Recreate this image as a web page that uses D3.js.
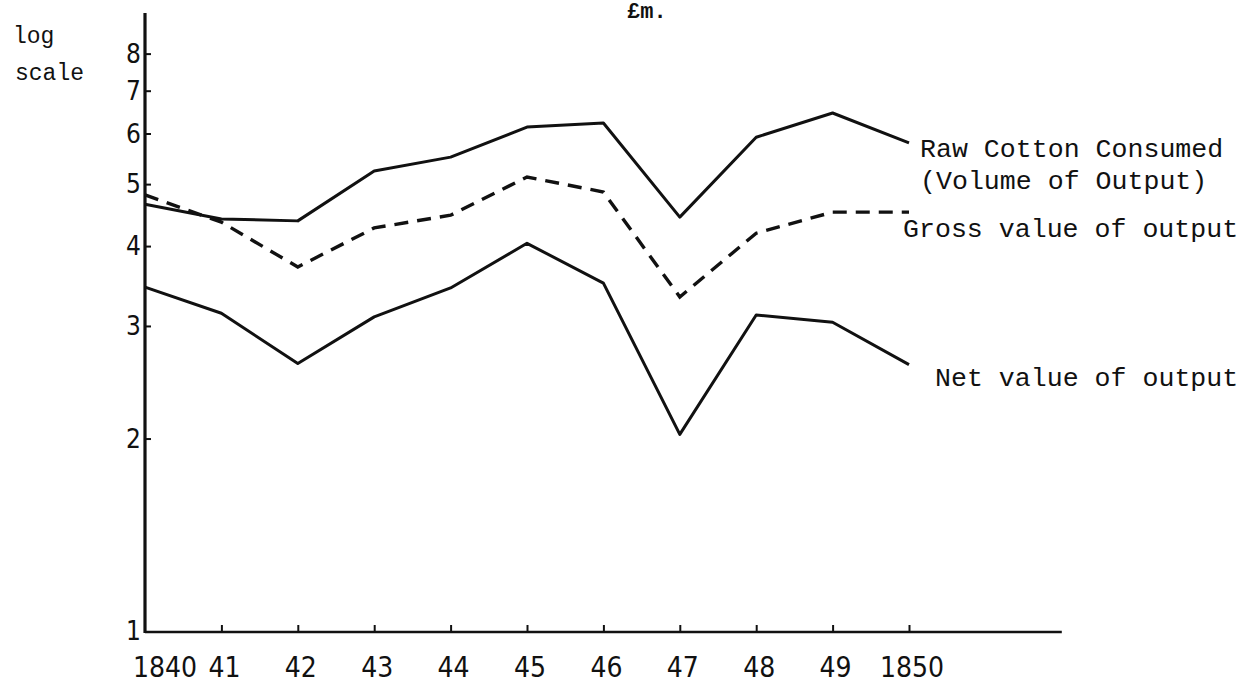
<!DOCTYPE html>
<html>
<head>
<meta charset="utf-8">
<script src="https://cdn.jsdelivr.net/npm/d3@7/dist/d3.min.js"></script>
<style>
  html, body { margin: 0; padding: 0; background: #fff; }
  svg { display: block; }
  .mono { font-family: "Liberation Mono", "DejaVu Sans Mono", monospace; fill: #111; }
  .tick-label { font-family: "Liberation Sans Narrow", "DejaVu Sans Condensed", sans-serif; font-stretch: condensed; fill: #111; }
</style>
</head>
<body>
<svg id="chart" width="1246" height="686"></svg>
<script>
// Cotton industry, 1840-1850 (£m., log scale)
const years = [1840, 1841, 1842, 1843, 1844, 1845, 1846, 1847, 1848, 1849, 1850];
const rawCotton  = [4.65, 4.41, 4.38, 5.24, 5.51, 6.14, 6.23, 4.44, 5.92, 6.46, 5.80];
const grossValue = [4.81, 4.36, 3.71, 4.27, 4.47, 5.13, 4.86, 3.33, 4.19, 4.52, 4.52];
const netValue   = [3.45, 3.14, 2.62, 3.10, 3.44, 4.04, 3.50, 2.03, 3.12, 3.04, 2.61];

const xTickLabels = ["1840", "41", "42", "43", "44", "45", "46", "47", "48", "49", "1850"];
const yTicks = [1, 2, 3, 4, 5, 6, 7, 8];
const axisEndYear = 1852;
const yMax = 9.26;

const svg = d3.select("#chart");

const x = d3.scaleLinear().domain([1840, 1850]).range([145, 909]);
const y = d3.scaleLog().domain([1, yMax]).range([631, 13]);

const ink = "#111";

// y axis: heavy vertical rule with short inward ticks
const yAxis = d3.axisRight(y)
  .tickValues(yTicks.filter(v => v > 1))
  .tickSize(6)
  .tickFormat("");
const gy = svg.append("g").attr("transform", `translate(${x(1840)},0)`).call(yAxis);
gy.select(".domain").remove();
gy.selectAll(".tick line").attr("stroke", ink).attr("stroke-width", 2);

svg.append("line")
  .attr("x1", x(1840)).attr("x2", x(1840))
  .attr("y1", y(1) + 2).attr("y2", y(yMax))
  .attr("stroke", ink).attr("stroke-width", 3.2);

svg.append("g").selectAll("text")
  .data(yTicks)
  .join("text")
  .attr("class", "tick-label")
  .attr("x", x(1840) - 4)
  .attr("y", d => y(d))
  .attr("dy", "0.36em")
  .attr("text-anchor", "end")
  .attr("font-size", 26)
  .text(d => d);

// x axis: baseline extended past 1850 with small upward ticks
svg.append("line")
  .attr("x1", x(1840)).attr("x2", x(axisEndYear))
  .attr("y1", y(1) + 1).attr("y2", y(1) + 1)
  .attr("stroke", ink).attr("stroke-width", 2.6);

const xAxis = d3.axisTop(x)
  .tickValues(years.slice(1))
  .tickSize(7)
  .tickFormat("");
const gx = svg.append("g").attr("transform", `translate(0,${y(1) + 1})`).call(xAxis);
gx.select(".domain").remove();
gx.selectAll(".tick line").attr("stroke", ink).attr("stroke-width", 2);

svg.append("g").selectAll("text")
  .data(years)
  .join("text")
  .attr("class", "tick-label")
  .attr("x", (d, i) => i === 0 ? x(d) - 12 : x(d) + 3)
  .attr("y", y(1) + 46)
  .attr("text-anchor", (d, i) => i === 0 ? "start" : "middle")
  .attr("font-size", 28)
  .text((d, i) => xTickLabels[i]);

// series
const line = d3.line()
  .x(d => x(d[0]))
  .y(d => y(d[1]));

function series(values) {
  return years.map((yr, i) => [yr, values[i]]);
}

svg.append("path")
  .datum(series(rawCotton))
  .attr("d", line)
  .attr("fill", "none")
  .attr("stroke", ink)
  .attr("stroke-width", 3)
  .attr("stroke-linejoin", "round");

svg.append("path")
  .datum(series(grossValue))
  .attr("d", line)
  .attr("fill", "none")
  .attr("stroke", ink)
  .attr("stroke-width", 3.4)
  .attr("stroke-dasharray", "14 9");

svg.append("path")
  .datum(series(netValue))
  .attr("d", line)
  .attr("fill", "none")
  .attr("stroke", ink)
  .attr("stroke-width", 3)
  .attr("stroke-linejoin", "round");

// series labels
const labelSize = 26.6;
const last = years.length - 1;
svg.append("text").attr("class", "mono").attr("font-size", labelSize)
  .attr("x", x(1850) + 11).attr("y", y(rawCotton[last]) + 14)
  .text("Raw Cotton Consumed");
svg.append("text").attr("class", "mono").attr("font-size", labelSize)
  .attr("x", x(1850) + 11).attr("y", y(rawCotton[last]) + 46)
  .text("(Volume of Output)");
svg.append("text").attr("class", "mono").attr("font-size", labelSize)
  .attr("x", x(1850) - 6).attr("y", y(grossValue[last]) + 25)
  .text("Gross value of output");
svg.append("text").attr("class", "mono").attr("font-size", labelSize)
  .attr("x", x(1850) + 26).attr("y", y(netValue[last]) + 21)
  .text("Net value of output");

// axis captions
svg.append("text").attr("class", "mono").attr("font-size", 23)
  .attr("x", 13).attr("y", 43).text("log");
svg.append("text").attr("class", "mono").attr("font-size", 23)
  .attr("x", 15).attr("y", 80).text("scale");
svg.append("text").attr("class", "mono").attr("font-size", 22)
  .attr("font-weight", "bold")
  .attr("x", 627).attr("y", 18).text("£m.");
</script>
</body>
</html>
